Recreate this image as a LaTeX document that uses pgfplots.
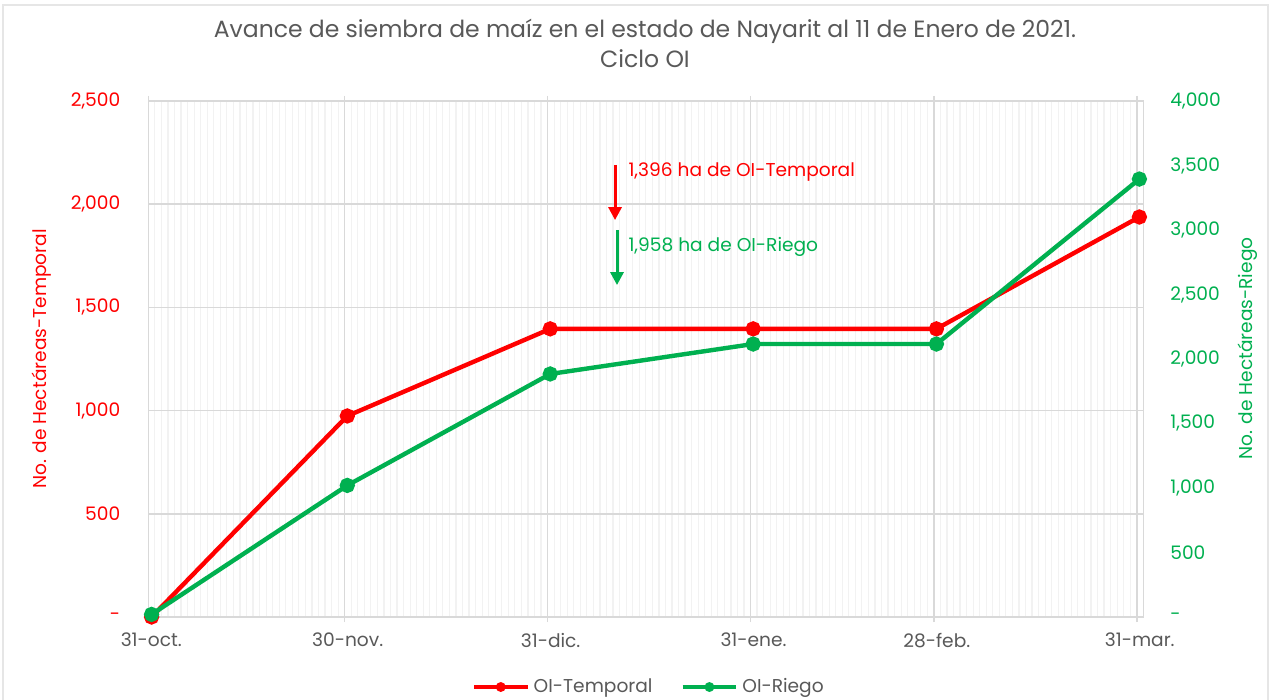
\documentclass[border=0pt]{standalone}
\usepackage{pgfplots}
\pgfplotsset{compat=1.18}
\usetikzlibrary{arrows.meta}
\usepackage{fontspec}
\setmainfont{Poppins}
\definecolor{cRed}{HTML}{FF0000}
\definecolor{cGreen}{HTML}{00B050}
\definecolor{cText}{HTML}{595959}
\definecolor{cGrid}{HTML}{D9D9D9}
\definecolor{cMinor}{HTML}{F2F2F2}
\definecolor{cFrame}{HTML}{E6E6E6}
\pgfplotstableread{
d v
0.5 0
30.4 974
61.4 1396
92.4 1396
120.4 1396
151.4 1938
}\temporal
\pgfplotstableread{
d v
0.5 20
30.4 1020
61.4 1884
92.4 2116
120.4 2116
151.4 3395
}\riego
\begin{document}
\begin{tikzpicture}
\useasboundingbox (0,0) rectangle (636pt,350pt);
\fill[white] (0,0) rectangle (636pt,350pt);
\draw[cFrame, line width=0.6pt] (1.5pt,-3pt) rectangle (634pt,347.5pt);
\node[text=cText, font=\fontsize{11.75}{15}\selectfont, align=center] at (322.5pt,328.5pt) {Avance de siembra de maíz en el estado de Nayarit al 11 de Enero de 2021.\\Ciclo OI};
\begin{axis}[
  at={(74.15pt,41.5pt)}, anchor=south west,
  scale only axis, width=497.5pt, height=258pt,
  xmin=0, xmax=152, ymin=0, ymax=2500,
  xtick={0,30,61,92,120,151},
  xticklabels={31-oct.,30-nov.,31-dic.,31-ene.,28-feb.,31-mar.},
  minor xtick={1,2,...,151},
  ytick={0,500,1000,1500,2000,2500},
  yticklabels={-,500,{1,000},{1,500},{2,000},{2,500}},
  xmajorgrids, xminorgrids, ymajorgrids,
  major grid style={cGrid, line width=0.8pt},
  minor grid style={cMinor, line width=0.6pt},
  minor tick length=0pt,
  axis line style={cGrid, line width=0.8pt},
  tick align=outside, major tick length=2.5pt,
  xtick style={cGrid, line width=0.8pt},
  ytick style={draw=none},
  x tick label style={text=cText, font=\fontsize{9.3}{11}\selectfont, yshift=-2pt, xshift=1.5pt},
  y tick label style={text=cRed, font=\fontsize{9.3}{11}\selectfont, xshift=-8pt},
  ylabel={No. de Hectáreas-Temporal},
  ylabel style={at={(axis description cs:-0.107,0.5)}, rotate=0, anchor=center, text=cRed, font=\fontsize{9.3}{11}\selectfont},
  clip=false,
]
\addplot[cRed, line width=2.2pt, mark=*, mark size=2.7pt] table[x=d,y=v] {\temporal};
\draw[cRed, line width=1.5pt, -{Triangle[width=6.5pt,length=6.5pt]}] (axis cs:71.3,2190) -- (axis cs:71.3,1923);
\node[anchor=west, text=cRed, font=\fontsize{9.3}{11}\selectfont, inner sep=0pt] at (axis cs:73.3,2156) {1,396 ha de OI-Temporal};
\draw[cGreen, line width=1.5pt, -{Triangle[width=6.5pt,length=6.5pt]}] (axis cs:71.6,1875) -- (axis cs:71.6,1608);
\node[anchor=west, text=cGreen, font=\fontsize{9.3}{11}\selectfont, inner sep=0pt] at (axis cs:73.3,1793) {1,958 ha de OI-Riego};
\end{axis}
\begin{axis}[
  at={(74.15pt,41.5pt)}, anchor=south west,
  scale only axis, width=497.5pt, height=258pt,
  xmin=0, xmax=152, ymin=0, ymax=4000,
  axis x line=none, axis y line*=right,
  axis line style={draw=none},
  ytick={0,500,...,4000},
  yticklabels={-,500,{1,000},{1,500},{2,000},{2,500},{3,000},{3,500},{4,000}},
  ytick style={draw=none},
  y tick label style={text=cGreen, font=\fontsize{9.3}{11}\selectfont, xshift=10pt},
  ylabel={No. de Hectáreas-Riego},
  ylabel style={at={(axis description cs:1.105,0.52)}, rotate=0, anchor=center, text=cGreen, font=\fontsize{9.3}{11}\selectfont},
  legend columns=2,
  legend style={at={(0.504,-0.1357)}, anchor=center, draw=none, fill=none, text=cText, font=\fontsize{9.3}{11}\selectfont, /tikz/every even column/.append style={column sep=12pt}},
  legend image code/.code={\draw[mark repeat=2,mark phase=2,#1] plot coordinates {(0cm,0cm) (0.47cm,0cm) (0.94cm,0cm)};},
  clip=false,
]
\addlegendimage{cRed, line width=2.2pt, mark=*, mark size=1.3pt}
\addlegendentry{OI-Temporal}
\addlegendimage{cGreen, line width=2.2pt, mark=*, mark size=1.3pt}
\addlegendentry{OI-Riego}
\addplot[cGreen, line width=2.2pt, mark=*, mark size=2.7pt, forget plot] table[x=d,y=v] {\riego};
\end{axis}
\end{tikzpicture}
\end{document}
